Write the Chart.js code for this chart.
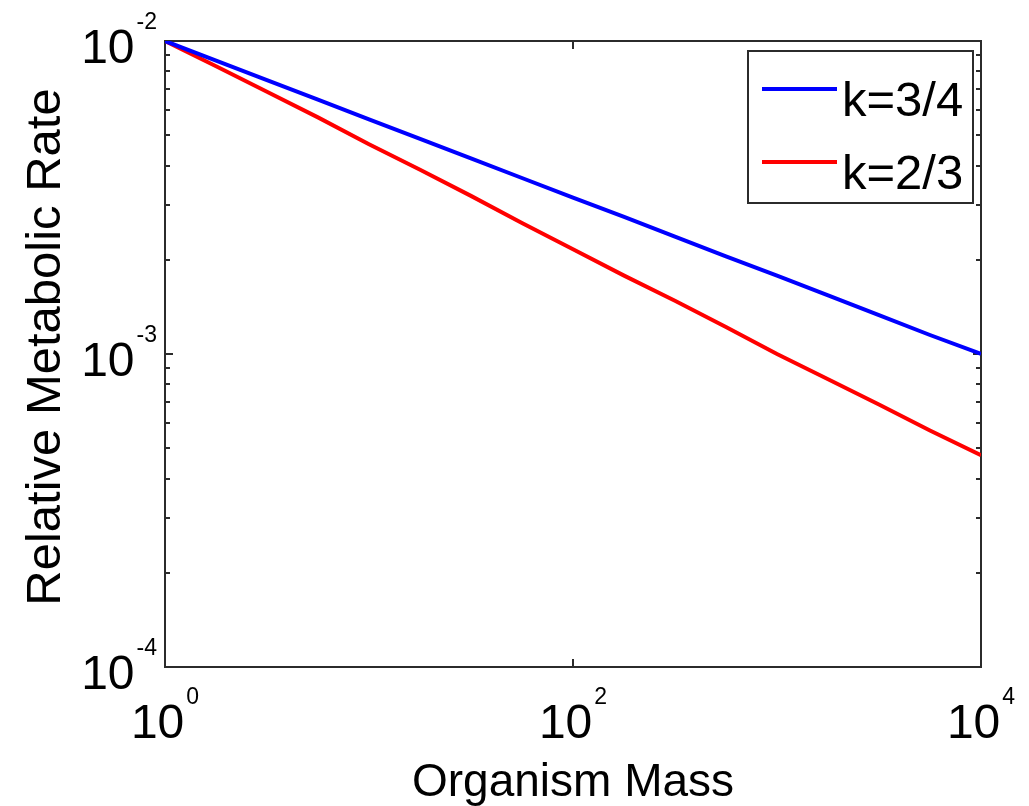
<!DOCTYPE html>
<html>
<head>
<meta charset="utf-8">
<script src="https://cdn.jsdelivr.net/npm/chart.js@4"></script>
<style>
  body { margin: 0; background: #fff; }
  #wrap { width: 1029px; height: 806px; }
</style>
</head>
<body>
<div id="wrap"><canvas id="grafico" width="1029" height="806"></canvas></div>
<script>
// Datos (log-log)
const masas = [1, 1.78, 3.16, 5.62, 10, 17.8, 31.6, 56.2, 100, 178, 316, 562, 1000, 1780, 3160, 5620, 10000];
const tasaK34 = [0.0100, 0.00866, 0.00750, 0.00650, 0.00562, 0.00487, 0.00422, 0.00365, 0.00316, 0.00274, 0.00237, 0.00205, 0.00178, 0.00154, 0.00133, 0.00115, 0.00100];
const tasaK23 = [0.0100, 0.00830, 0.00688, 0.00570, 0.00468, 0.00388, 0.00320, 0.00262, 0.00216, 0.00178, 0.00148, 0.00122, 0.00100, 0.00083, 0.00069, 0.00057, 0.000475];
const etiquetas = ['k=3/4', 'k=2/3'];

const ticksX = [1, 100, 10000];
const expX = ['0', '2', '4'];
const ticksY = [1e-2, 1e-3, 1e-4];
const expY = ['-2', '-3', '-4'];

const FUENTE = '"Liberation Sans", Arial, Helvetica, sans-serif';
const COLOR_EJE = '#2b2b2b';

// Dibuja "10" con exponente
function etiquetaPotencia(ctx, base, exp, x, yBase, yExp, alinear) {
    ctx.font = '48px ' + FUENTE;
    const wb = ctx.measureText(base).width;
    ctx.font = '23px ' + FUENTE;
    const we = ctx.measureText(exp).width;
    let x0;
    if (alinear === 'right') x0 = x - wb - 2 - we;
    else x0 = x - (wb + 2 + we) / 2;
    ctx.textAlign = 'left';
    ctx.textBaseline = 'alphabetic';
    ctx.font = '48px ' + FUENTE;
    ctx.fillText(base, x0, yBase);
    ctx.font = '23px ' + FUENTE;
    ctx.fillText(exp, x0 + wb + 2, yExp);
}

const marcoPlugin = {
    id: 'marco',
    beforeDatasetsDraw(chart) {
        const ctx = chart.ctx;
        const a = chart.chartArea;
        const sx = chart.scales.x;
        const sy = chart.scales.y;
        ctx.save();
        ctx.strokeStyle = COLOR_EJE;
        ctx.lineWidth = 2;
        ctx.strokeRect(a.left, a.top, a.right - a.left, a.bottom - a.top);

        // ticks eje x (arriba y abajo)
        ctx.beginPath();
        ticksX.forEach(v => {
            const px = Math.round(sx.getPixelForValue(v));
            ctx.moveTo(px, a.bottom); ctx.lineTo(px, a.bottom - 8);
            ctx.moveTo(px, a.top); ctx.lineTo(px, a.top + 8);
        });
        // ticks eje y mayores y menores
        for (let d = -4; d < -2; d++) {
            for (let m = 1; m <= 9; m++) {
                const v = m * Math.pow(10, d);
                const py = Math.round(sy.getPixelForValue(v));
                const largo = m === 1 ? 8 : 5;
                ctx.moveTo(a.left, py); ctx.lineTo(a.left + largo, py);
                ctx.moveTo(a.right, py); ctx.lineTo(a.right - largo, py);
            }
        }
        ctx.stroke();

        // etiquetas
        ctx.fillStyle = '#000';
        ticksY.forEach((v, i) => {
            const py = sy.getPixelForValue(v);
            etiquetaPotencia(ctx, '10', expY[i], a.left - 8, py + 22, py - 12, 'right');
        });
        ticksX.forEach((v, i) => {
            const px = sx.getPixelForValue(v);
            etiquetaPotencia(ctx, '10', expX[i], px, a.bottom + 71, a.bottom + 37, 'center');
        });

        // títulos de ejes
        ctx.font = '46px ' + FUENTE;
        ctx.textAlign = 'center';
        ctx.textBaseline = 'alphabetic';
        ctx.fillText('Organism Mass', (a.left + a.right) / 2, a.bottom + 129);
        ctx.save();
        ctx.translate(60, 347);
        ctx.rotate(-Math.PI / 2);
        ctx.font = '49px ' + FUENTE;
        ctx.fillText('Relative Metabolic Rate', 0, 0);
        ctx.restore();
        ctx.restore();
    },
    afterDraw(chart) {
        // leyenda dentro del área
        const ctx = chart.ctx;
        ctx.save();
        ctx.fillStyle = '#fff';
        ctx.fillRect(748, 51, 225, 152);
        ctx.strokeStyle = COLOR_EJE;
        ctx.lineWidth = 2;
        ctx.strokeRect(748, 51, 225, 152);
        const filas = [89, 162];
        chart.data.datasets.forEach((ds, i) => {
            ctx.strokeStyle = ds.borderColor;
            ctx.lineWidth = 4;
            ctx.beginPath();
            ctx.moveTo(762, filas[i]);
            ctx.lineTo(837, filas[i]);
            ctx.stroke();
            ctx.fillStyle = '#000';
            ctx.font = '49px ' + FUENTE;
            ctx.textAlign = 'left';
            ctx.textBaseline = 'alphabetic';
            ctx.fillText(ds.label, 842, filas[i] + 27);
        });
        ctx.restore();
    }
};

const ctx = document.getElementById('grafico').getContext('2d');
new Chart(ctx, {
    type: 'line',
    data: {
        labels: masas,
        datasets: [
            {
                label: etiquetas[0],
                data: masas.map((m, i) => ({ x: m, y: tasaK34[i] })),
                borderColor: '#0000ff',
                borderWidth: 4,
                pointRadius: 0,
                tension: 0
            },
            {
                label: etiquetas[1],
                data: masas.map((m, i) => ({ x: m, y: tasaK23[i] })),
                borderColor: '#ff0000',
                borderWidth: 4,
                pointRadius: 0,
                tension: 0
            }
        ]
    },
    options: {
        responsive: false,
        animation: false,
        layout: { padding: { left: 165, right: 48, top: 41, bottom: 139 } },
        plugins: {
            legend: { display: false },
            tooltip: { enabled: false }
        },
        scales: {
            x: { type: 'logarithmic', min: 1, max: 10000, display: false },
            y: { type: 'logarithmic', min: 1e-4, max: 1e-2, display: false }
        }
    },
    plugins: [marcoPlugin]
});
</script>
</body>
</html>
